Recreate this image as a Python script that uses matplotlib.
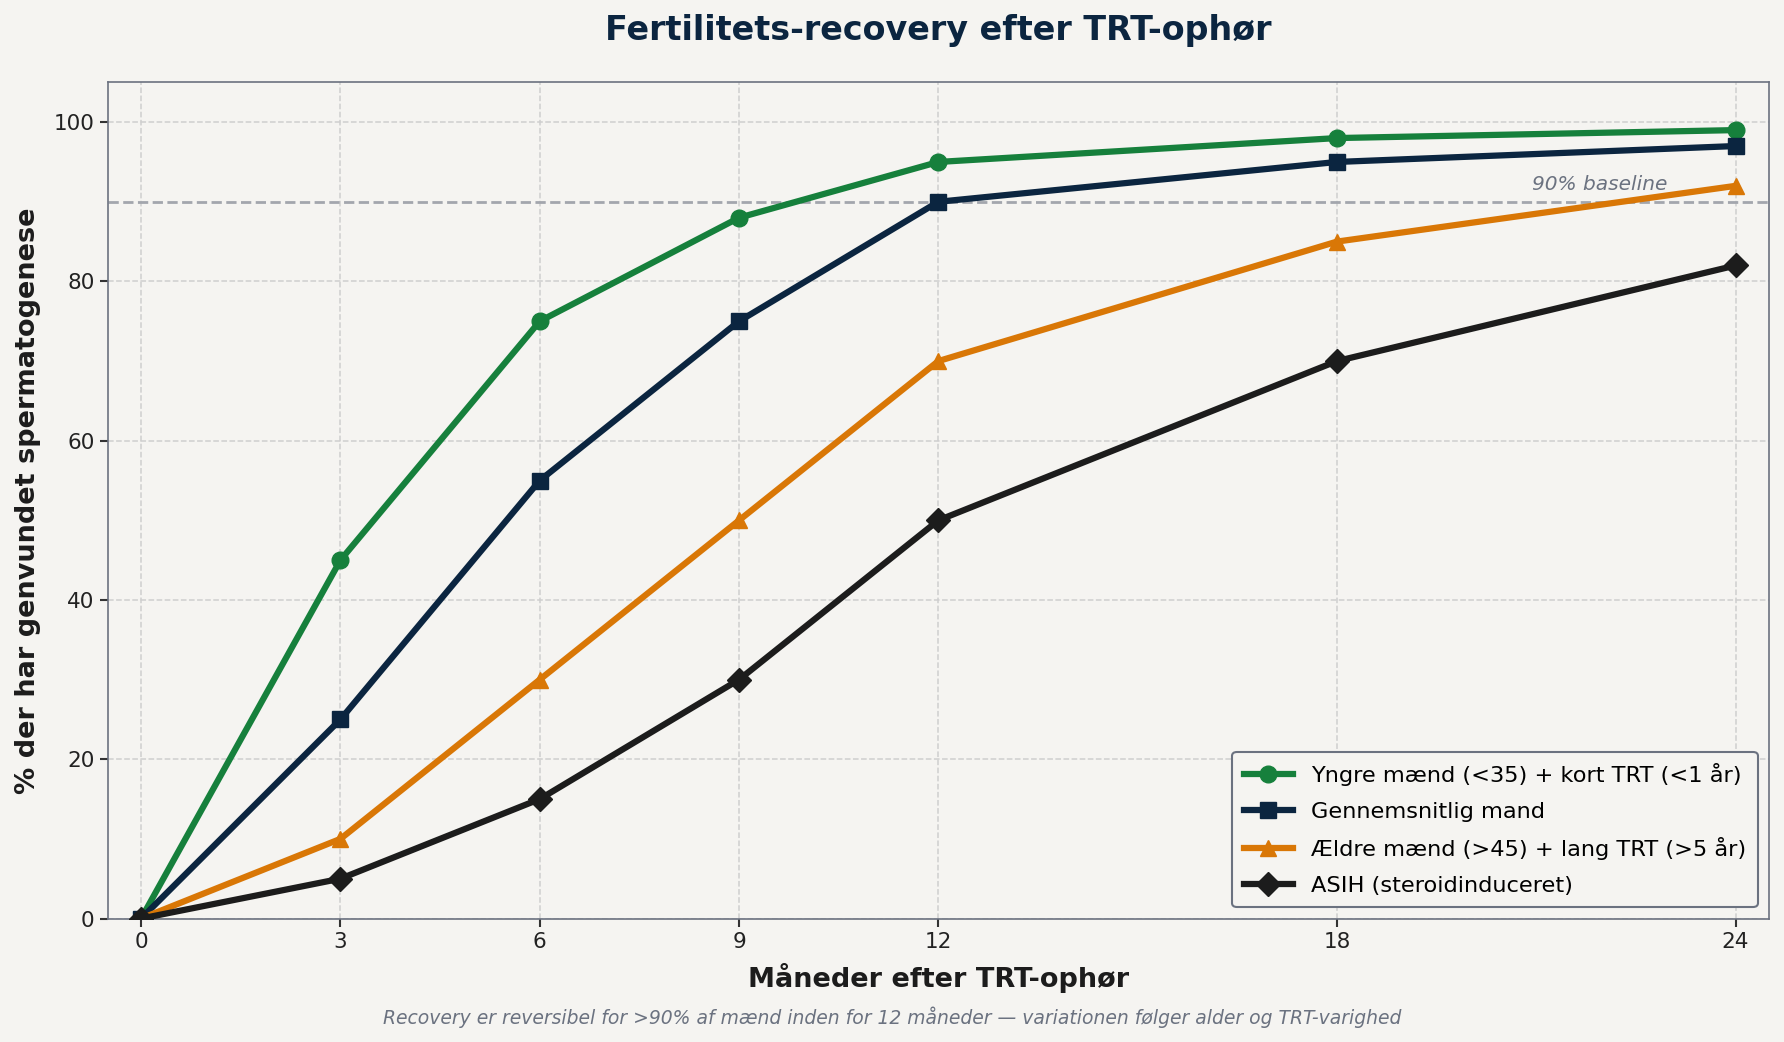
import matplotlib.pyplot as plt

# data
months = [0, 3, 6, 9, 12, 18, 24]
young_short = [0, 45, 75, 88, 95, 98, 99]
average_man = [0, 25, 55, 75, 90, 95, 97]
older_long = [0, 10, 30, 50, 70, 85, 92]
asih = [0, 5, 15, 30, 50, 70, 82]

labels = ["Yngre mænd (<35) + kort TRT (<1 år)",
          "Gennemsnitlig mand",
          "Ældre mænd (>45) + lang TRT (>5 år)",
          "ASIH (steroidinduceret)"]
colors = ["#16803c", "#0b2540", "#d97706", "#1c1c1c"]
markers = ["o", "s", "^", "D"]

bg = "#f5f4f1"
fig = plt.figure(figsize=(17.84, 10.42), dpi=100, facecolor=bg)
ax = fig.add_axes([0.0605, 0.1185, 0.931, 0.8025])
ax.set_facecolor(bg)

for ys, lab, c, m in zip([young_short, average_man, older_long, asih], labels, colors, markers):
    ax.plot(months, ys, color=c, lw=4.5, marker=m, markersize=12, label=lab, zorder=3)

# 90% baseline
ax.axhline(90, color="#a3a6ad", lw=2, ls="--", zorder=2)
ax.text(21.95, 91.0, "90% baseline", fontsize=14.5, style="italic", color="#6b7280", ha="center", va="bottom")

ax.set_xlim(-0.5, 24.5)
ax.set_ylim(0, 105)
ax.set_xticks(months)
ax.set_yticks([0, 20, 40, 60, 80, 100])
ax.tick_params(labelsize=15.5, length=6, width=1.5, color="#333333", labelcolor="#222222")
ax.grid(True, ls="--", color="#cfcfcf", lw=1.1, zorder=0)
for s in ax.spines.values():
    s.set_color("#6b7280")
    s.set_linewidth(1.2)

ax.set_xlabel("Måneder efter TRT-ophør", fontsize=19.5, fontweight="bold", color="#1c1c1c", labelpad=8)
ax.set_ylabel("% der har genvundet spermatogenese", fontsize=19.5, fontweight="bold", color="#1c1c1c", labelpad=9)
fig.text(0.526, 0.971, "Fertilitets-recovery efter TRT-ophør", fontsize=24, fontweight="bold",
         color="#0b2540", ha="center", va="center")

leg = ax.legend(loc="lower right", fontsize=16.2, frameon=True, facecolor=bg, edgecolor="#6b7280",
                framealpha=1, borderpad=0.5, labelspacing=0.7, handlelength=2.2)
leg.get_frame().set_linewidth(1.5)

fig.text(0.5, 0.024, "Recovery er reversibel for >90% af mænd inden for 12 måneder — variationen følger alder og TRT-varighed",
         ha="center", va="center", fontsize=13.5, style="italic", color="#6b7280")

fig.savefig("out.png", dpi=100, facecolor=bg)
